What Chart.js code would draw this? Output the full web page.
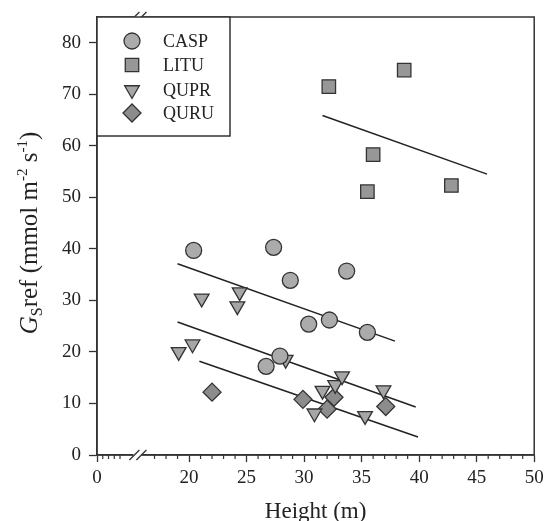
<!DOCTYPE html>
<html>
<head>
<meta charset="utf-8">
<script src="https://cdn.jsdelivr.net/npm/chart.js@4"></script>
<style>
  html, body { margin: 0; padding: 0; background: #fff; }
  canvas { display: block; }
</style>
</head>
<body>
<canvas id="gsChart" width="545" height="521"></canvas>
<script>
// species data, height (m) vs Gs ref
const caspHeight = [20.4, 27.35, 28.8, 33.7, 30.4, 32.2, 35.5, 27.9, 26.7];
const caspGs = [39.7, 40.3, 33.9, 35.7, 25.4, 26.2, 23.8, 19.2, 17.2];

const lituHeight = [32.15, 38.7, 36.0, 35.5, 42.8];
const lituGs = [71.5, 74.7, 58.3, 51.1, 52.3];

const quprHeight = [19.1, 20.3, 21.1, 24.4, 24.2, 28.4, 31.6, 32.7, 33.3, 30.9, 35.3, 36.9];
const quprGs = [20.0, 21.5, 30.4, 31.6, 28.9, 18.5, 12.5, 13.6, 15.3, 8.1, 7.6, 12.6];

const quruHeight = [22.0, 29.9, 32.6, 32.0, 37.1];
const quruGs = [12.2, 10.8, 11.2, 8.9, 9.4];

// fitted lines (end points)
const lituFitX = [31.6, 45.9];
const lituFitY = [65.9, 54.5];
const caspFitX = [19.0, 37.9];
const caspFitY = [37.1, 22.1];
const quprFitX = [19.0, 39.7];
const quprFitY = [25.8, 9.3];
const quruFitX = [20.9, 39.9];
const quruFitY = [18.2, 3.5];

// axis ticks (x axis is broken: 12 on the scale is shown as "0")
const xAxisStart = 12;
const xTicks = [12, 20, 25, 30, 35, 40, 45, 50];
const yTicks = [0, 10, 20, 30, 40, 50, 60, 70, 80];
const speciesNames = ['CASP', 'LITU', 'QUPR', 'QURU'];

const serif = '"Liberation Serif", "DejaVu Serif", serif';
const ink = '#222';

function toPoints(xs, ys) {
    return xs.map((x, i) => ({ x: x, y: ys[i] }));
}

function scatterSet(label, xs, ys, style, radius, fill, rotation) {
    return {
        type: 'scatter',
        label: label,
        data: toPoints(xs, ys),
        pointStyle: style,
        pointRadius: radius,
        pointRotation: rotation || 0,
        pointBackgroundColor: fill,
        pointBorderColor: '#333',
        pointBorderWidth: 1.3,
        order: 0
    };
}

function fitSet(xs, ys) {
    return {
        type: 'line',
        label: '',
        data: toPoints(xs, ys),
        borderColor: '#222',
        borderWidth: 1.5,
        pointRadius: 0,
        fill: false,
        order: 1
    };
}

//..frame, break marks, minor ticks, legend and y title
const decorPlugin = {
    id: 'decor',
    afterDraw(chart) {
        const ctx = chart.ctx;
        const area = chart.chartArea;
        const xs = chart.scales.x;

        ctx.save();
        ctx.strokeStyle = '#333';
        ctx.lineWidth = 1.5;
        ctx.strokeRect(area.left, area.top, area.right - area.left, area.bottom - area.top);

        // minor ticks
        ctx.lineWidth = 1.2;
        const minor = [12.5, 13, 13.5, 14];
        for (let v = 17; v < 50; v++) {
            if (v % 5 !== 0) minor.push(v);
        }
        minor.forEach(v => {
            const px = xs.getPixelForValue(v);
            ctx.beginPath();
            ctx.moveTo(px, area.bottom);
            ctx.lineTo(px, area.bottom + 4);
            ctx.stroke();
        });

        // break marks on top and bottom axes
        const bx = xs.getPixelForValue(15.6);
        [area.top, area.bottom].forEach(y => {
            ctx.fillStyle = '#fff';
            ctx.fillRect(bx - 5, y - 2, 8, 4);
            ctx.lineWidth = 1.3;
            [-4, 3].forEach(off => {
                ctx.beginPath();
                ctx.moveTo(bx + off - 5, y + 5);
                ctx.lineTo(bx + off + 5, y - 5);
                ctx.stroke();
            });
        });

        // legend box
        const lx = area.left, ly = area.top;
        ctx.fillStyle = '#fff';
        ctx.fillRect(lx, ly, 133, 119);
        ctx.lineWidth = 1.5;
        ctx.strokeRect(lx, ly, 133, 119);
        ctx.font = '18px ' + serif;
        ctx.fillStyle = ink;
        ctx.textBaseline = 'middle';
        const rows = [24, 48, 73, 96];
        speciesNames.forEach((name, i) => {
            const ds = chart.data.datasets[i];
            ctx.fillStyle = ds.pointBackgroundColor;
            ctx.strokeStyle = ds.pointBorderColor;
            ctx.lineWidth = ds.pointBorderWidth;
            Chart.helpers.drawPoint(ctx, {
                pointStyle: ds.pointStyle,
                rotation: ds.pointRotation,
                radius: ds.pointRadius,
                borderWidth: ds.pointBorderWidth
            }, lx + 35, ly + rows[i]);
            ctx.fillStyle = ink;
            ctx.fillText(name, lx + 66, ly + rows[i] + 1);
        });

        // y axis title with italic G, subscript and superscripts
        const parts = [
            { t: 'G', f: 'italic 25px ' + serif, dy: 0 },
            { t: 'S', f: '16px ' + serif, dy: 5 },
            { t: 'ref (mmol m', f: '25px ' + serif, dy: 0 },
            { t: '-2', f: '15px ' + serif, dy: -10 },
            { t: ' s', f: '25px ' + serif, dy: 0 },
            { t: '-1', f: '15px ' + serif, dy: -10 },
            { t: ')', f: '25px ' + serif, dy: 0 }
        ];
        let total = 0;
        parts.forEach(p => { ctx.font = p.f; p.w = ctx.measureText(p.t).width; total += p.w; });
        ctx.translate(37, 233);
        ctx.rotate(-Math.PI / 2);
        ctx.textBaseline = 'alphabetic';
        ctx.fillStyle = ink;
        let cx = -total / 2;
        parts.forEach(p => {
            ctx.font = p.f;
            ctx.fillText(p.t, cx, p.dy);
            cx += p.w;
        });
        ctx.restore();
    }
};

function buildChart() {
    const ctx = document.getElementById('gsChart');
    new Chart(ctx, {
        data: {
            datasets: [
                scatterSet('CASP', caspHeight, caspGs, 'circle', 8, '#ababab'),
                scatterSet('LITU', lituHeight, lituGs, 'rect', 9.5, '#979797'),
                scatterSet('QUPR', quprHeight, quprGs, 'triangle', 8.5, '#a6a6a6', 180),
                scatterSet('QURU', quruHeight, quruGs, 'rectRot', 9, '#8c8c8c'),
                fitSet(lituFitX, lituFitY),
                fitSet(caspFitX, caspFitY),
                fitSet(quprFitX, quprFitY),
                fitSet(quruFitX, quruFitY)
            ]
        },
        options: {
            responsive: false,
            animation: false,
            layout: { padding: { top: 17, right: 9.5, left: 0, bottom: 0 } },
            scales: {
                x: {
                    type: 'linear',
                    min: xAxisStart,
                    max: 50,
                    afterBuildTicks: scale => { scale.ticks = xTicks.map(v => ({ value: v })); },
                    afterFit: scale => {
                        scale.height = 66;
                        scale.paddingLeft = 0;
                        scale.paddingRight = 0;
                    },
                    grid: { drawOnChartArea: false, tickLength: 7, tickColor: '#333', tickWidth: 1.3 },
                    border: { color: '#333', width: 1.5 },
                    ticks: {
                        padding: 5,
                        color: ink,
                        font: { family: serif, size: 19 },
                        callback: v => (v === xAxisStart ? '0' : String(v)),
                        maxRotation: 0
                    },
                    title: {
                        display: true,
                        text: 'Height (m)',
                        color: ink,
                        font: { family: serif, size: 23, lineHeight: 0.8 },
                        padding: { top: 0, bottom: 0 }
                    }
                },
                y: {
                    type: 'linear',
                    min: 0,
                    max: 85,
                    afterBuildTicks: scale => { scale.ticks = yTicks.map(v => ({ value: v })); },
                    afterFit: scale => {
                        scale.width = 97;
                        scale.paddingTop = 0;
                        scale.paddingBottom = 0;
                    },
                    grid: { drawOnChartArea: false, tickLength: 8, tickColor: '#333', tickWidth: 1.3 },
                    border: { color: '#333', width: 1.5 },
                    ticks: {
                        padding: 8,
                        color: ink,
                        font: { family: serif, size: 19 }
                    }
                }
            },
            plugins: {
                legend: { display: false },
                tooltip: { enabled: false }
            }
        },
        plugins: [decorPlugin]
    });
}

document.addEventListener('DOMContentLoaded', buildChart);
</script>
</body>
</html>
